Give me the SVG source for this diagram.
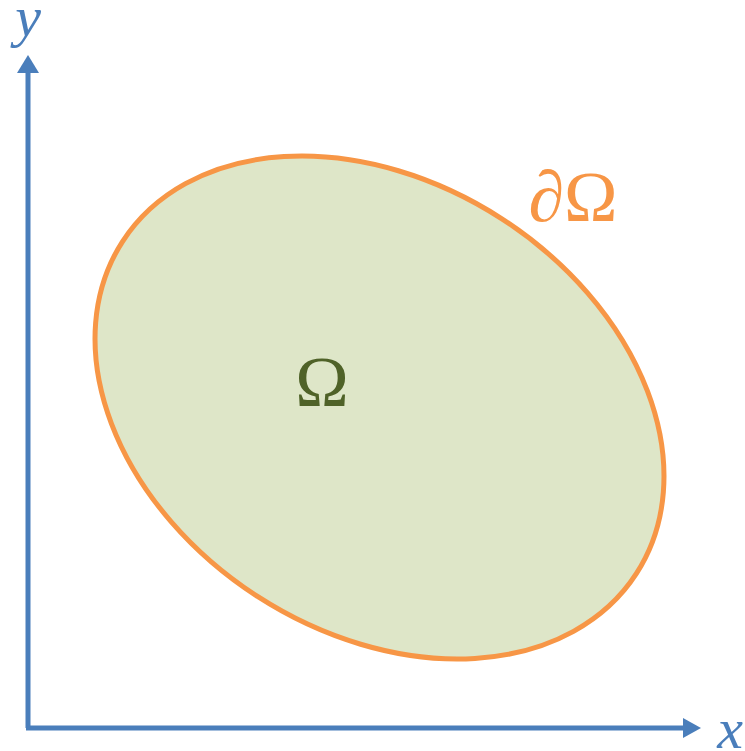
<svg xmlns="http://www.w3.org/2000/svg" width="745" height="751" viewBox="0 0 745 751">
<style>
.axis{stroke:#4A7EBB;stroke-width:5;fill:none}
.head{fill:#4A7EBB}
.lbl{font-family:"Liberation Serif","DejaVu Serif",serif;font-style:italic;fill:#4A7EBB;font-size:58px}
.om{font-family:"Liberation Serif","DejaVu Serif",serif;font-size:72px}
</style>
<rect width="745" height="751" fill="#FFFFFF"/>
<g id="axes">
<line class="axis" x1="28" y1="728" x2="28" y2="70"/>
<polygon class="head" points="28,55 17,73 39,73"/>
<line class="axis" x1="26" y1="728" x2="686" y2="728"/>
<polygon class="head" points="701,728 683,718 683,738"/>
</g>
<g id="domain">
<ellipse cx="379.5" cy="407.5" rx="305.9" ry="224.9" transform="rotate(32.85 379.5 407.5)" fill="#DEE6C8" stroke="#F79646" stroke-width="5"/>
<text class="om" x="322" y="406" text-anchor="middle" fill="#4F6228">Ω</text>
</g>
<g id="labels">
<text class="lbl" x="28" y="36" text-anchor="middle">y</text>
<text class="lbl" x="730" y="748" text-anchor="middle">x</text>
<text class="om" x="573" y="221" text-anchor="middle" fill="#F79646">∂Ω</text>
</g>
</svg>
